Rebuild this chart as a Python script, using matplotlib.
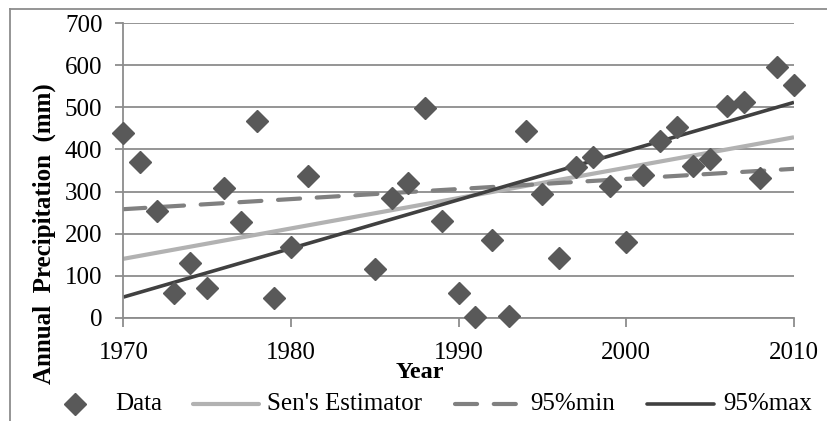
import matplotlib
matplotlib.use("Agg")
import matplotlib.pyplot as plt
from matplotlib.lines import Line2D

plt.rcParams['font.family'] = ['Liberation Serif', 'DejaVu Serif']

years = [1970, 1971, 1972, 1973, 1974, 1975, 1976, 1977, 1978, 1979, 1980, 1981,
         1985, 1986, 1987, 1988, 1989, 1990, 1991, 1992, 1993, 1994, 1995, 1996,
         1997, 1998, 1999, 2000, 2001, 2002, 2003, 2004, 2005, 2006, 2007, 2008,
         2009, 2010]
precip = [438, 370, 254, 58, 131, 70, 309, 227, 467, 46, 169, 336,
          116, 285, 321, 499, 229, 59, 2, 184, 4, 443, 294, 142,
          359, 381, 313, 179, 339, 420, 454, 361, 377, 503, 512, 333,
          597, 554]

trend_years = [1970, 2010]
sen = [140, 429]
min95 = [258, 354]
max95 = [49, 512]

xticks = [1970, 1980, 1990, 2000, 2010]
yticks = [0, 100, 200, 300, 400, 500, 600, 700]

W, H = 827, 421
fig = plt.figure(figsize=(W / 100, H / 100), dpi=100)
ax = fig.add_axes([123.3 / W, 1 - 317.7 / H, (794 - 123.3) / W, (317.7 - 23.3) / H])

grid_c = '#8c8c8c'
c_data = '#595959'
c_sen = '#b2b2b2'
c_min = '#808080'
c_max = '#404040'

ax.set_xlim(1970, 2010)
ax.set_ylim(0, 700)
ax.set_xticks(xticks)
ax.set_yticks(yticks)
ax.set_xticklabels([str(t) for t in xticks], fontsize=18)
ax.set_yticklabels([str(t) for t in yticks], fontsize=18)
ax.yaxis.grid(True, color=grid_c, linewidth=1.3)
ax.set_axisbelow(True)
for s in ['top', 'right']:
    ax.spines[s].set_visible(False)
for s in ['left', 'bottom']:
    ax.spines[s].set_color(grid_c)
    ax.spines[s].set_linewidth(1.3)
ax.tick_params(axis='x', direction='out', length=6.5, width=1.3, color=grid_c, pad=11)
ax.tick_params(axis='y', direction='out', length=6, width=1.3, color=grid_c, pad=9)

ax.plot(trend_years, sen, color=c_sen, linewidth=3.0, solid_capstyle='butt', zorder=2)
ax.plot(trend_years, min95, color=c_min, linewidth=3.0, dashes=(5.3, 4.0),
        dash_capstyle='round', zorder=2)
ax.plot(trend_years, max95, color=c_max, linewidth=2.6, solid_capstyle='butt', zorder=2)
ax.plot(years, precip, linestyle='none', marker='D', markersize=11,
        color=c_data, markeredgecolor=c_data, zorder=3, clip_on=False)

fig.text(44 / W, 1 - 234 / H, 'Annual  Precipitation  (mm)', rotation=90,
         ha='center', va='center', fontsize=18, fontweight='bold')
fig.text(420 / W, 1 - 372 / H, 'Year', ha='center', va='center',
         fontsize=17.5, fontweight='bold')

# outer chart border
fig.add_artist(Line2D([10 / W, 10 / W], [0, 1 - 9 / H], transform=fig.transFigure,
                      color='#8c8c8c', linewidth=1.3))
fig.add_artist(Line2D([10 / W, 1], [1 - 9 / H, 1 - 9 / H], transform=fig.transFigure,
                      color='#8c8c8c', linewidth=1.3))

# legend
ly = 1 - 404 / H
fig.add_artist(Line2D([75 / W], [ly], transform=fig.transFigure, marker='D',
                      markersize=11, color=c_data, linestyle='none'))
fig.text(115 / W, ly, 'Data', va='center', ha='left', fontsize=18)
fig.add_artist(Line2D([193 / W, 259 / W], [ly, ly], transform=fig.transFigure,
                      color=c_sen, linewidth=3.0, solid_capstyle='round'))
fig.text(267 / W, ly, "Sen's Estimator", va='center', ha='left', fontsize=18)
fig.add_artist(Line2D([455 / W, 517 / W], [ly, ly], transform=fig.transFigure,
                      color=c_min, linewidth=3.0, dashes=(5.3, 4.0), dash_capstyle='round'))
fig.text(530 / W, ly, '95%min', va='center', ha='left', fontsize=18)
fig.add_artist(Line2D([647 / W, 714 / W], [ly, ly], transform=fig.transFigure,
                      color=c_max, linewidth=2.6, solid_capstyle='round'))
fig.text(723 / W, ly, '95%max', va='center', ha='left', fontsize=18)

fig.savefig('out.png', dpi=100)
